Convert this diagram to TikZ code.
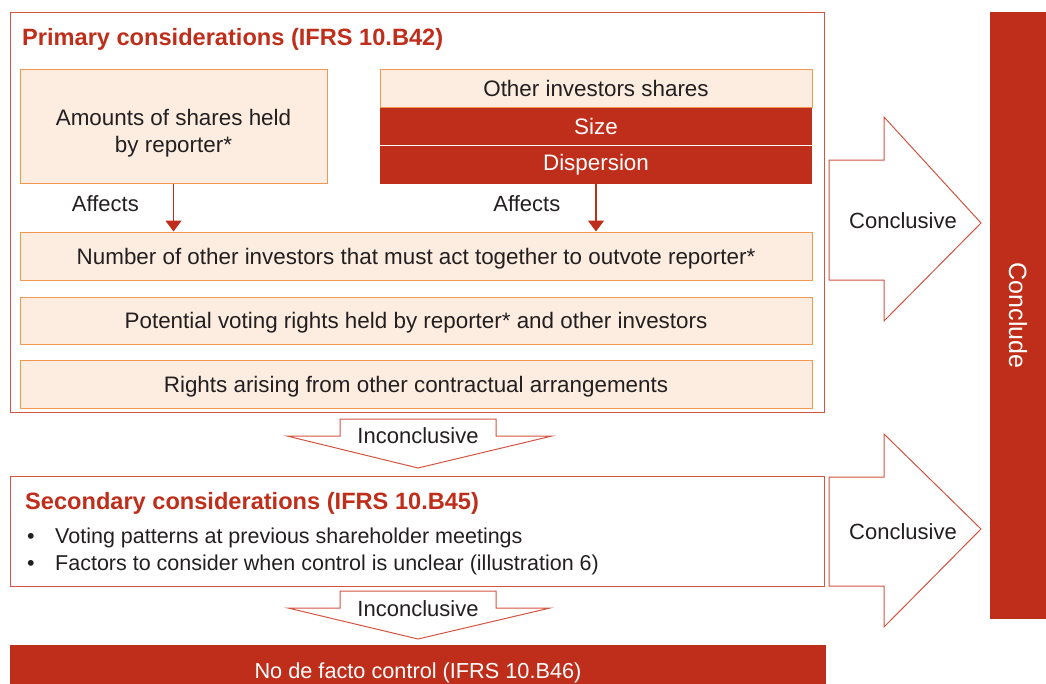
\documentclass[tikz,border=0pt]{standalone}
\usepackage{fontspec}
\setmainfont{Liberation Sans}
\usepackage{xcolor}
\usepackage{tikz}
\usetikzlibrary{arrows.meta, positioning, calc}
\definecolor{PwcRed}{RGB}{191,46,26}
\definecolor{FrameRed}{RGB}{212,84,66}
\definecolor{Peach}{RGB}{253,237,224}
\definecolor{PeachLine}{RGB}{241,152,82}
\definecolor{InkGrey}{RGB}{35,31,32}
\newcommand{\diagbody}{\fontsize{22.4}{27}\selectfont}
\newcommand{\diaglabel}{\fontsize{22}{26}\selectfont}
\newcommand{\diagtitle}{\fontsize{23.6}{28}\selectfont\bfseries}
\tikzset{
    framebox/.style={rectangle, draw=FrameRed, line width=1pt, minimum width=814pt, inner sep=0pt},
    factorbox/.style={rectangle, draw=PeachLine, fill=Peach, line width=1pt, inner sep=0pt,
        align=center, font=\diagbody, text=InkGrey},
    redcell/.style={rectangle, fill=PwcRed, inner sep=0pt, minimum width=432pt, minimum height=38pt,
        font=\diagbody, text=white},
    affectarrow/.style={-{Triangle[width=16pt,length=11pt]}, line width=1.5pt, draw=PwcRed},
    labeltext/.style={inner sep=0pt, font=\diaglabel, text=InkGrey},
    titletext/.style={inner sep=0pt, anchor=west, font=\diagtitle, text=PwcRed},
    outcomearrow/.style={draw=FrameRed, line width=1pt, fill=white, line join=miter},
}

\begin{document}
\begin{tikzpicture}[x=1pt, y=-1pt]
    \clip (0,0) rectangle (1046,683);
    % primary considerations
    \node[framebox, minimum height=400pt] (primary) at (417,212) {};
    \node[titletext] (primtitle) at (22,39) {Primary considerations (IFRS 10.B42)};

    \node[factorbox, minimum width=307pt, minimum height=114pt] (amounts) at (173.5,126) {};
    \node[factorbox, draw=none, fill=none] (amountstext) at ($(amounts.center)+(0,7)$)
        {Amounts of shares held\\by reporter*};
    \node[factorbox, minimum width=432pt, minimum height=38pt] (others) at (596,88)
        {Other investors shares};
    \node[redcell, below=0pt of others] (size) {Size};
    \node[redcell, below=0pt of size] (dispersion) {Dispersion};
    \draw[white, line width=1pt] (size.south west) -- (size.south east);

    \node[factorbox, minimum width=792pt, minimum height=48pt, text depth=0pt] (number) at (416,256)
        {Number of other investors that must act together to outvote reporter*};
    \node[factorbox, minimum width=792pt, minimum height=47pt, text depth=0pt,
        below=16pt of number] (potential)
        {Potential voting rights held by reporter* and other investors};
    \node[factorbox, minimum width=792pt, minimum height=48pt, text depth=0pt,
        below=15pt of potential] (rights)
        {Rights arising from other contractual arrangements};

    \draw[affectarrow] (amounts.south) -- (amounts.south |- number.north)
        node[labeltext, pos=0.42, left=34pt] {Affects};
    \draw[affectarrow] (dispersion.south) -- (dispersion.south |- number.north)
        node[labeltext, pos=0.42, left=35pt] {Affects};

    % first inconclusive arrow
    \draw[outcomearrow] (340,419) -- (496,419) -- (496,436) -- (552,436) -- (418,468)
        -- (287,436) -- (340,436) -- cycle;
    \node[labeltext] (incon1) at (418,436) {Inconclusive};

    % secondary considerations
    \node[framebox, minimum height=110pt] (secondary) at (417,531) {};
    \node[titletext] (sectitle) at (25,503) {Secondary considerations (IFRS 10.B45)};
    \node[labeltext, anchor=west, font=\fontsize{21.5}{26}\selectfont] (voting) at (27,538)
        {\makebox[28pt][l]{\textbullet}Voting patterns at previous shareholder meetings};
    \node[labeltext, anchor=west, font=\fontsize{21.5}{26}\selectfont] (factors) at (27,565)
        {\makebox[28pt][l]{\textbullet}Factors to consider when control is unclear (illustration 6)};

    % second inconclusive arrow
    \draw[outcomearrow] (340,591) -- (496,591) -- (496,608) -- (550,608) -- (418,639)
        -- (288,608) -- (340,608) -- cycle;
    \node[labeltext] (incon2) at (418,609) {Inconclusive};

    % no de facto control
    \node[redcell, minimum width=816pt, minimum height=56pt,
        font=\fontsize{21.7}{26}\selectfont] (nocontrol) at (418,673)
        {No de facto control (IFRS 10.B46)};

    % conclusive arrows and conclude bar
    \draw[outcomearrow] (829,160) -- (884,160) -- (884,117) -- (981,223) -- (884,321)
        -- (884,280) -- (829,280) -- cycle;
    \node[labeltext] (concl1) at (903,221) {Conclusive};
    \draw[outcomearrow] (829,477) -- (884,477) -- (884,434) -- (981,529) -- (884,627)
        -- (884,586) -- (829,586) -- cycle;
    \node[labeltext] (concl2) at (903,532) {Conclusive};

    \node[redcell, minimum width=607pt, minimum height=56pt, rotate=-90,
        font=\fontsize{25}{30}\selectfont] (conclude) at (1018,315.5) {Conclude};
\end{tikzpicture}
\end{document}
